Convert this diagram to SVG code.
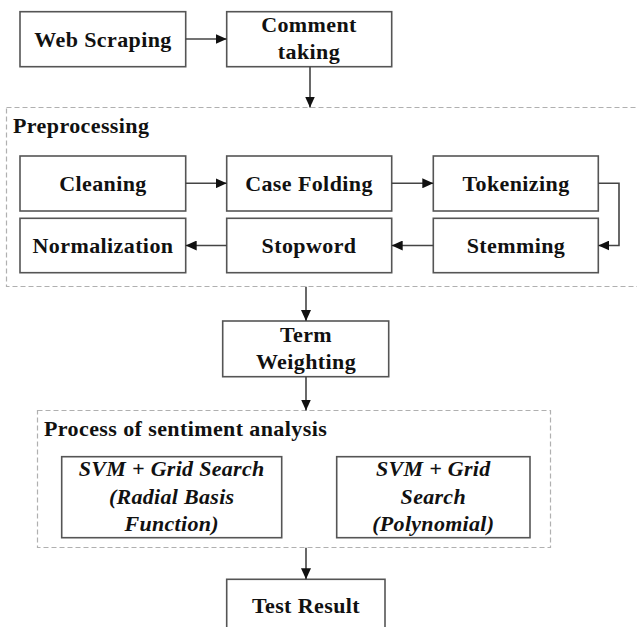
<svg xmlns="http://www.w3.org/2000/svg" width="637" height="627" viewBox="0 0 637 627">
<defs>
<marker id="ah" markerWidth="12" markerHeight="10" refX="11" refY="5" orient="auto" markerUnits="userSpaceOnUse">
<path d="M0,0 L11,5 L0,10 Z" fill="#111"/>
</marker>
<style>
.box{fill:#fff;stroke:#555;stroke-width:1.6}
.grp{fill:none;stroke:#b0b0b0;stroke-width:1.2;stroke-dasharray:5,3}
.t{font-family:"Liberation Serif","Times New Roman",serif;font-weight:bold;font-size:22px;letter-spacing:0.4px;fill:#111;text-anchor:middle}
.ti{font-family:"Liberation Serif","Times New Roman",serif;font-weight:bold;font-style:italic;font-size:22px;letter-spacing:0.3px;fill:#111;text-anchor:middle}
.h{font-family:"Liberation Serif","Times New Roman",serif;font-weight:bold;font-size:22px;letter-spacing:0.4px;fill:#111}
.c{fill:none;stroke:#444;stroke-width:1.6;marker-end:url(#ah)}
</style>
</defs>
<rect width="637" height="627" fill="#fff"/>
<g id="preprocessing-group">
<rect class="grp" x="6.5" y="107.5" width="640" height="179"/>
<text class="h" x="13" y="133">Preprocessing</text>
</g>
<g id="sentiment-group">
<rect class="grp" x="37.5" y="410.5" width="513" height="137"/>
<text class="h" x="44" y="436">Process of sentiment analysis</text>
</g>
<g id="web-scraping"><rect class="box" x="20" y="11.7" width="165.7" height="55"/><text class="t" x="103" y="47">Web Scraping</text></g>
<g id="comment-taking"><rect class="box" x="226.7" y="11.7" width="165" height="55"/><text class="t" x="309" y="32">Comment</text><text class="t" x="309" y="59">taking</text></g>
<g id="cleaning"><rect class="box" x="20" y="156" width="165.7" height="55"/><text class="t" x="103" y="191">Cleaning</text></g>
<g id="case-folding"><rect class="box" x="226.7" y="156" width="165" height="55"/><text class="t" x="309" y="191">Case Folding</text></g>
<g id="tokenizing"><rect class="box" x="433.3" y="156" width="165" height="55"/><text class="t" x="516" y="191">Tokenizing</text></g>
<g id="normalization"><rect class="box" x="20" y="218.3" width="165.7" height="54.4"/><text class="t" x="103" y="252.5">Normalization</text></g>
<g id="stopword"><rect class="box" x="226.7" y="218.3" width="165" height="54.4"/><text class="t" x="309" y="252.5">Stopword</text></g>
<g id="stemming"><rect class="box" x="433.3" y="218.3" width="165" height="54.4"/><text class="t" x="516" y="252.5">Stemming</text></g>
<g id="term-weighting"><rect class="box" x="222.7" y="321" width="166" height="55.7"/><text class="t" x="306" y="342">Term</text><text class="t" x="306" y="369">Weighting</text></g>
<g id="svm-rbf"><rect class="box" x="61.7" y="456.7" width="220" height="81"/><text class="ti" x="171.7" y="476">SVM + Grid Search</text><text class="ti" x="171.7" y="504">(Radial Basis</text><text class="ti" x="171.7" y="531">Function)</text></g>
<g id="svm-poly"><rect class="box" x="336.7" y="456.7" width="193.3" height="81"/><text class="ti" x="433.3" y="476">SVM + Grid</text><text class="ti" x="433.3" y="504">Search</text><text class="ti" x="433.3" y="531">(Polynomial)</text></g>
<g id="test-result"><rect class="box" x="226.7" y="579.3" width="158.3" height="70"/><text class="t" x="306" y="612.5">Test Result</text></g>
<g id="connectors">
<path class="c" d="M185.7,39 H226.7"/>
<path class="c" d="M310,66.7 V107.5"/>
<path class="c" d="M185.7,183.3 H226.7"/>
<path class="c" d="M391.7,183.3 H433.3"/>
<path class="c" d="M598.3,183.3 H619 V245.5 H598.3"/>
<path class="c" d="M433.3,245.5 H391.7"/>
<path class="c" d="M226.7,245.5 H185.7"/>
<path class="c" d="M306,286.7 V321"/>
<path class="c" d="M306,376.7 V410.5"/>
<path class="c" d="M306,547.7 V579.3"/>
</g>
</svg>
